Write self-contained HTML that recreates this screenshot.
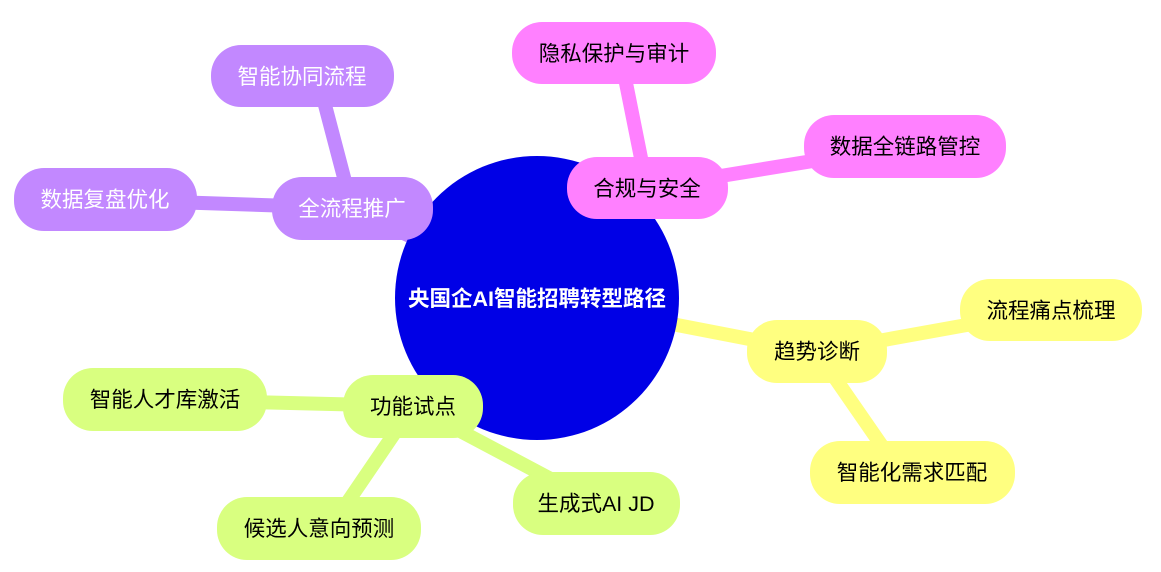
<!DOCTYPE html>
<html><head><meta charset="utf-8"><style>
html,body{margin:0;padding:0;background:#fff;}
text{font-family:"Liberation Sans","Noto Sans CJK SC",sans-serif;font-size:21.5px;dominant-baseline:central;text-anchor:middle;}
</style></head><body>
<svg width="1161" height="567" viewBox="0 0 1161 567" xmlns="http://www.w3.org/2000/svg">
<g stroke-width="14" stroke-linecap="round" fill="none">
<line x1="537" y1="298" x2="352" y2="208" stroke="#c288ff"/>
<line x1="352" y1="208" x2="320" y2="86" stroke="#c288ff"/>
<line x1="352" y1="208" x2="110" y2="200" stroke="#c288ff"/>
<line x1="537" y1="298" x2="647" y2="188" stroke="#ff80ff"/>
<line x1="647" y1="188" x2="620" y2="53" stroke="#ff80ff"/>
<line x1="647" y1="188" x2="905" y2="146" stroke="#ff80ff"/>
<line x1="537" y1="298" x2="817" y2="352" stroke="#ffff80"/>
<line x1="817" y1="352" x2="1050" y2="310" stroke="#ffff80"/>
<line x1="817" y1="352" x2="900" y2="472" stroke="#ffff80"/>
<line x1="537" y1="298" x2="413" y2="406" stroke="#d9ff80"/>
<line x1="413" y1="406" x2="165" y2="400" stroke="#d9ff80"/>
<line x1="413" y1="406" x2="596" y2="503" stroke="#d9ff80"/>
<line x1="413" y1="406" x2="330" y2="528" stroke="#d9ff80"/>
</g>
<circle cx="537" cy="298" r="142" fill="#0000e6"/>
<text x="537" y="299" fill="#fff" font-weight="bold" style="font-size:21.5px">央国企AI智能招聘转型路径</text>
<g>
<rect x="272" y="177" width="161" height="63" rx="30" fill="#c288ff"/><text x="352" y="209" fill="#fff">全流程推广</text>
<rect x="211" y="45" width="183" height="62" rx="30" fill="#c288ff"/><text x="302" y="77" fill="#fff">智能协同流程</text>
<rect x="14" y="168" width="183" height="63" rx="30" fill="#c288ff"/><text x="105" y="200" fill="#fff">数据复盘优化</text>
<rect x="567" y="157" width="161" height="62" rx="30" fill="#ff80ff"/><text x="647" y="189">合规与安全</text>
<rect x="512" y="22" width="204" height="62" rx="30" fill="#ff80ff"/><text x="614" y="54">隐私保护与审计</text>
<rect x="804" y="115" width="202" height="63" rx="30" fill="#ff80ff"/><text x="905" y="147">数据全链路管控</text>
<rect x="747" y="320" width="140" height="63" rx="30" fill="#ffff80"/><text x="817" y="352">趋势诊断</text>
<rect x="960" y="279" width="182" height="62" rx="30" fill="#ffff80"/><text x="1051" y="311">流程痛点梳理</text>
<rect x="810" y="441" width="205" height="63" rx="30" fill="#ffff80"/><text x="912" y="473">智能化需求匹配</text>
<rect x="343" y="375" width="140" height="63" rx="30" fill="#d9ff80"/><text x="413" y="407">功能试点</text>
<rect x="63" y="368" width="204" height="63" rx="30" fill="#d9ff80"/><text x="165" y="400">智能人才库激活</text>
<rect x="513" y="472" width="167" height="63" rx="30" fill="#d9ff80"/><text x="596" y="504">生成式AI JD</text>
<rect x="217" y="497" width="204" height="63" rx="30" fill="#d9ff80"/><text x="319" y="529">候选人意向预测</text>
</g>
</svg>
</body></html>
